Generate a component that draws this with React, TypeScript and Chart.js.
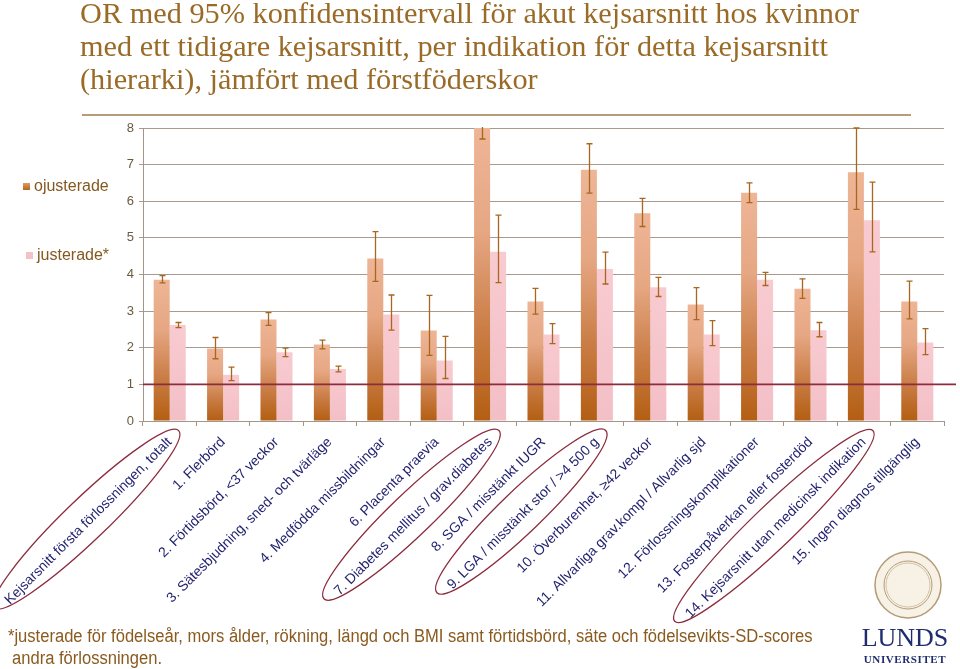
import React, { useEffect, useRef } from 'react';
import { Chart, registerables } from 'chart.js';

Chart.register(...registerables);

const W = 960;
const H = 669;

const categories = [
  'Kejsarsnitt första förlossningen, totalt',
  '1. Flerbörd',
  '2. Förtidsbörd, <37 veckor',
  '3. Sätesbjudning, sned- och tvärläge',
  '4. Medfödda missbildningar',
  '6. Placenta praevia',
  '7. Diabetes mellitus / grav.diabetes',
  '8. SGA / misstänkt IUGR',
  '9. LGA / misstänkt stor / >4 500 g',
  '10. Överburenhet, ≥42 veckor',
  '11. Allvarliga grav.kompl / Allvarlig sjd',
  '12. Förlossningskomplikationer',
  '13. Fosterpåverkan eller fosterdöd',
  '14. Kejsarsnitt utan medicinsk indikation',
  '15. Ingen diagnos tillgänglig',
];

const ojusterade = [3.86, 1.98, 2.77, 2.09, 4.44, 2.47, 8.6, 3.26, 6.86, 5.67, 3.18, 6.23, 3.61, 6.79, 3.26];
const ojusteradeLow = [3.77, 1.7, 2.61, 1.97, 3.81, 1.79, 7.7, 2.92, 6.22, 5.31, 2.77, 5.96, 3.35, 5.78, 2.79];
const ojusteradeHigh = [3.97, 2.28, 2.96, 2.21, 5.17, 3.43, 9.6, 3.62, 7.57, 6.08, 3.64, 6.5, 3.88, 8.0, 3.82];

const justerade = [2.62, 1.26, 1.88, 1.42, 2.91, 1.65, 4.62, 2.36, 4.15, 3.65, 2.36, 3.86, 2.48, 5.48, 2.14];
const justeradeLow = [2.55, 1.1, 1.76, 1.34, 2.48, 1.16, 3.78, 2.11, 3.74, 3.4, 2.06, 3.7, 2.3, 4.62, 1.81];
const justeradeHigh = [2.69, 1.47, 1.99, 1.5, 3.44, 2.31, 5.62, 2.66, 4.61, 3.92, 2.74, 4.06, 2.69, 6.52, 2.52];

const yTicks = [0, 1, 2, 3, 4, 5, 6, 7, 8];
const referenceValue = 1;
const highlighted = [0, 6, 8, 13];

const seriesNames = ['ojusterade', 'justerade*'];
const titleLines = [
  'OR med 95% konfidensintervall för akut kejsarsnitt hos kvinnor',
  'med ett tidigare kejsarsnitt, per indikation för detta kejsarsnitt',
  '(hierarki), jämfört med förstföderskor',
];
const footLines = [
  '*justerade för födelseår, mors ålder, rökning, längd och BMI samt förtidsbörd, säte och födelsevikts-SD-scores',
  'andra förlossningen.',
];

const errLows = [ojusteradeLow, justeradeLow];
const errHighs = [ojusteradeHigh, justeradeHigh];

const LABEL_FONT = '14px "Liberation Sans", Arial, sans-serif';

const decorPlugin = {
  id: 'decor',
  afterDatasetsDraw(chart: any) {
    const { ctx, chartArea } = chart;
    const ys = chart.scales.y;
    ctx.save();
    ctx.beginPath();
    ctx.rect(chartArea.left, chartArea.top - 1, chartArea.right - chartArea.left, chartArea.bottom - chartArea.top + 2);
    ctx.clip();
    ctx.strokeStyle = '#a8661e';
    ctx.lineWidth = 1.3;
    chart.data.datasets.forEach((_ds: any, di: number) => {
      const meta = chart.getDatasetMeta(di);
      meta.data.forEach((el: any, i: number) => {
        const x = Math.round(el.x) + 0.5;
        const yl = ys.getPixelForValue(errLows[di][i]);
        const yh = ys.getPixelForValue(errHighs[di][i]);
        ctx.beginPath();
        ctx.moveTo(x, yl);
        ctx.lineTo(x, yh);
        ctx.moveTo(x - 3, yl);
        ctx.lineTo(x + 3, yl);
        ctx.moveTo(x - 3, yh);
        ctx.lineTo(x + 3, yh);
        ctx.stroke();
      });
    });
    ctx.restore();

    // reference line at OR = 1
    const yr = ys.getPixelForValue(referenceValue);
    ctx.save();
    ctx.strokeStyle = '#8c2c3e';
    ctx.lineWidth = 1.6;
    ctx.beginPath();
    ctx.moveTo(chartArea.left, yr);
    ctx.lineTo(chartArea.right + 12, yr);
    ctx.stroke();
    ctx.restore();
  },
  afterDraw(chart: any) {
    const { ctx, chartArea } = chart;
    const xs = chart.scales.x;
    ctx.save();
    ctx.font = LABEL_FONT;
    ctx.strokeStyle = '#8c2c3e';
    ctx.lineWidth = 1.3;
    const c = Math.SQRT1_2;
    highlighted.forEach((i) => {
      const w = ctx.measureText(categories[i]).width;
      const tx = xs.getPixelForValue(i);
      const yb = chartArea.bottom + 16;
      const cx = tx - (w / 2) * c - 2;
      const cy = yb + (w / 2) * c + 1;
      ctx.beginPath();
      ctx.ellipse(cx, cy, w / 2 + 13, 21, -Math.PI / 4 + 0.02, 0, Math.PI * 2);
      ctx.stroke();
    });
    ctx.restore();
  },
};

export default function App() {
  const ref = useRef<HTMLCanvasElement>(null);

  useEffect(() => {
    const canvas = ref.current!;
    const orangeFill = (ctx: any) => {
      const chart = ctx.chart;
      const ys = chart.scales?.y;
      if (!chart.chartArea || !ys || ctx.type !== 'data') return '#d08a55';
      const v = Math.min(ctx.raw as number, ys.max);
      const top = ys.getPixelForValue(v);
      const base = ys.getPixelForValue(0);
      if (!isFinite(top) || !isFinite(base) || base - top < 1) return '#d08a55';
      const g = chart.ctx.createLinearGradient(0, top, 0, base);
      g.addColorStop(0, '#eeb596');
      g.addColorStop(0.35, '#e6a783');
      g.addColorStop(0.7, '#c97c44');
      g.addColorStop(1, '#b35e12');
      return g;
    };
    const pinkFill = (ctx: any) => {
      const chart = ctx.chart;
      const ys = chart.scales?.y;
      if (!chart.chartArea || !ys || ctx.type !== 'data') return '#f6c5cc';
      const top = ys.getPixelForValue(Math.min(ctx.raw as number, ys.max));
      const base = ys.getPixelForValue(0);
      if (!isFinite(top) || !isFinite(base) || base - top < 1) return '#f6c5cc';
      const g = chart.ctx.createLinearGradient(0, top, 0, base);
      g.addColorStop(0, '#f8cbd1');
      g.addColorStop(1, '#f3bfc6');
      return g;
    };

    const chart = new Chart(canvas, {
      type: 'bar',
      data: {
        labels: categories,
        datasets: [
          { label: seriesNames[0], data: ojusterade, backgroundColor: orangeFill, borderWidth: 0 },
          { label: seriesNames[1], data: justerade, backgroundColor: pinkFill, borderWidth: 0 },
        ],
      },
      options: {
        responsive: false,
        maintainAspectRatio: false,
        animation: false,
        devicePixelRatio: 1,
        layout: { padding: { left: 113, right: 16, top: 128, bottom: 0 } },
        datasets: { bar: { categoryPercentage: 0.6, barPercentage: 1.0 } },
        plugins: { legend: { display: false }, tooltip: { enabled: false }, title: { display: false } },
        scales: {
          x: {
            grid: { drawOnChartArea: false, offset: true, tickLength: 5, color: '#a39686' },
            border: { color: '#a39686', width: 1 },
            ticks: {
              autoSkip: false,
              minRotation: 45,
              maxRotation: 45,
              padding: 8,
              color: '#1f1f6e',
              font: { family: '"Liberation Sans", Arial, sans-serif', size: 14 },
            },
            afterFit: (s: any) => {
              s.height = 248;
              s.paddingLeft = 0;
              s.paddingRight = 0;
            },
          },
          y: {
            min: 0,
            max: 8,
            afterBuildTicks: (s: any) => {
              s.ticks = yTicks.map((v) => ({ value: v }));
            },
            grid: { color: '#a89b8d', lineWidth: 1, tickLength: 4 },
            border: { color: '#a39686', width: 1 },
            ticks: {
              padding: 5,
              color: '#6b5a3e',
              font: { family: '"Liberation Sans", Arial, sans-serif', size: 13 },
            },
            afterFit: (s: any) => {
              s.width = 30;
              s.paddingTop = 0;
              s.paddingBottom = 0;
            },
          },
        },
      },
      plugins: [decorPlugin],
    });
    return () => chart.destroy();
  }, []);

  const titleColor = '#9a6a27';
  const legendColor = '#85581f';
  return (
    <div style={{ position: 'fixed', left: 0, top: 0, width: W, height: H, background: '#fff', overflow: 'hidden' }}>
      <canvas ref={ref} width={W} height={H} style={{ position: 'absolute', left: 0, top: 0, width: W, height: H }} />
      {titleLines.map((t, i) => (
        <div
          key={i}
          style={{
            position: 'absolute',
            left: 80,
            top: -3 + i * 33,
            fontFamily: '"Liberation Serif", "Times New Roman", serif',
            fontSize: 30.3,
            lineHeight: '33px',
            color: titleColor,
            whiteSpace: 'nowrap',
          }}
        >
          {t}
        </div>
      ))}
      <div style={{ position: 'absolute', left: 82, top: 114, width: 829, height: 0, borderTop: '2px solid #b59c7a' }} />
      {seriesNames.map((n, i) => (
        <div key={n} style={{ position: 'absolute', left: i === 0 ? 23 : 26, top: i === 0 ? 176 : 245, height: 20, display: 'flex', alignItems: 'center' }}>
          <span
            style={{
              display: 'inline-block',
              width: 7,
              height: 7,
              marginRight: 4,
              background: i === 0 ? 'linear-gradient(#d99a6e, #b86516)' : '#f3c1c8',
            }}
          />
          <span style={{ fontFamily: '"Liberation Sans", Arial, sans-serif', fontSize: 16, color: legendColor, lineHeight: '20px' }}>{n}</span>
        </div>
      ))}
      {footLines.map((t, i) => (
        <div
          key={i}
          style={{
            position: 'absolute',
            left: i === 0 ? 8 : 12,
            top: i === 0 ? 625 : 647,
            fontFamily: '"Liberation Sans", Arial, sans-serif',
            fontSize: 18,
            lineHeight: '22px',
            color: '#8a5a1e',
            whiteSpace: 'nowrap',
            transform: 'scaleX(0.92)',
            transformOrigin: 'left center',
          }}
        >
          {t}
        </div>
      ))}
      <svg style={{ position: 'absolute', left: 872, top: 550 }} width={72} height={72}>
        <circle cx={36} cy={35} r={33} fill="#f7f1e6" stroke="#b49c78" strokeWidth={1.5} />
        <circle cx={36} cy={35} r={24} fill="none" stroke="#b49c78" strokeWidth={1} />
        <circle cx={36} cy={35} r={22} fill="none" stroke="#c9b596" strokeWidth={0.8} />
      </svg>
      <div
        style={{
          position: 'absolute',
          left: 860,
          top: 623,
          width: 90,
          textAlign: 'center',
          fontFamily: '"Liberation Serif", "Times New Roman", serif',
          fontSize: 26,
          lineHeight: '30px',
          color: '#1f2d6e',
          letterSpacing: 0,
        }}
      >
        LUNDS
      </div>
      <div
        style={{
          position: 'absolute',
          left: 860,
          top: 652,
          width: 90,
          textAlign: 'center',
          fontFamily: '"Liberation Serif", "Times New Roman", serif',
          fontSize: 11,
          fontWeight: 'bold',
          lineHeight: '14px',
          color: '#1f2d6e',
          letterSpacing: 0.6,
        }}
      >
        UNIVERSITET
      </div>
    </div>
  );
}
